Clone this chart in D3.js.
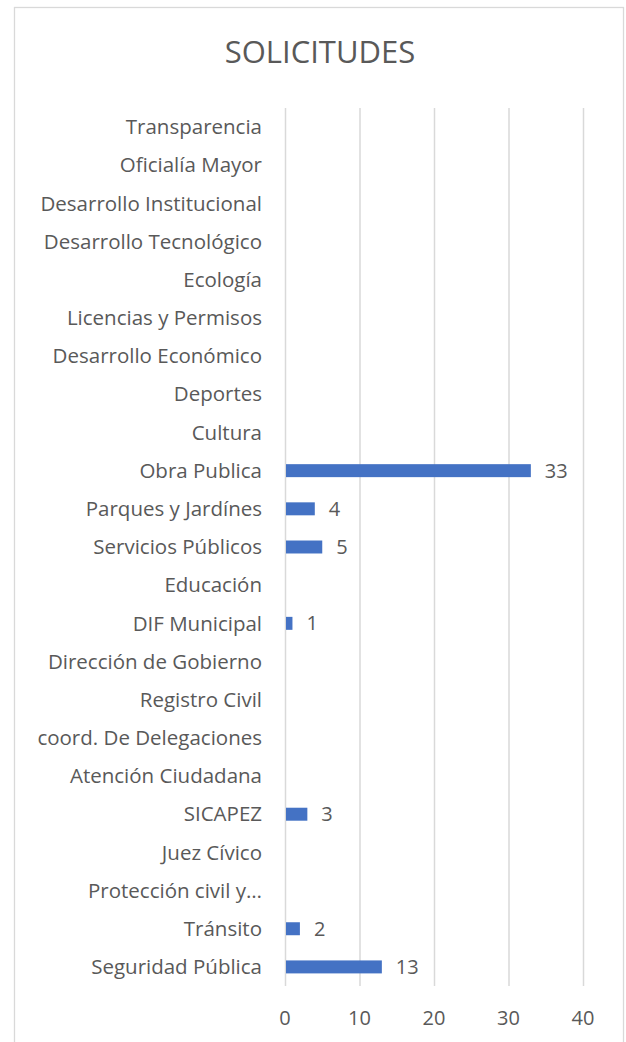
<!DOCTYPE html>
<html>
<head>
<meta charset="utf-8">
<script src="https://cdn.jsdelivr.net/npm/d3@7"></script>
<style>
  body { margin: 0; background: #fff; }
  text { font-family: "Open Sans", Lato, sans-serif; fill: #595959; }
</style>
</head>
<body>
<div id="wrapper"></div>
<script>
const categories = ["Transparencia", "Oficialía Mayor", "Desarrollo Institucional", "Desarrollo Tecnológico",
  "Ecología", "Licencias y Permisos", "Desarrollo Económico", "Deportes", "Cultura", "Obra Publica",
  "Parques y Jardínes", "Servicios Públicos", "Educación", "DIF Municipal", "Dirección de Gobierno",
  "Registro Civil", "coord. De Delegaciones", "Atención Ciudadana", "SICAPEZ", "Juez Cívico",
  "Protección civil y…", "Tránsito", "Seguridad Pública"]
const values = [null, null, null, null, null, null, null, null, null, 33,
  4, 5, null, 1, null, null, null, null, 3, null, null, 2, 13]
const xTicks = [0, 10, 20, 30, 40]

const width = 626, height = 1042
const svg = d3.select("#wrapper").append("svg")
    .attr("width", width).attr("height", height)

// chart frame
svg.append("rect")
    .attr("x", 14.5).attr("y", 7.5)
    .attr("width", 609).attr("height", 1060)
    .attr("fill", "#fff").attr("stroke", "#d9d9d9").attr("stroke-width", 1.3)

svg.append("text")
    .attr("x", 320).attr("y", 63)
    .attr("text-anchor", "middle")
    .style("font-size", "31px")
    .text("SOLICITUDES")

const xScale = d3.scaleLinear().domain([0, 40]).range([285, 583])
const yScale = d3.scaleBand().domain(categories).range([108, 986]).paddingInner(0.66).paddingOuter(0.33)

// gridlines
svg.append("g").selectAll("line").data(xTicks).join("line")
    .attr("x1", d => xScale(d) + 0.5).attr("x2", d => xScale(d) + 0.5)
    .attr("y1", 108).attr("y2", 986)
    .attr("stroke", "#d9d9d9").attr("stroke-width", 1.5)

const data = categories.map((c, i) => ({ c, v: values[i] })).filter(d => d.v != null)

svg.append("g").selectAll("rect").data(data).join("rect")
    .attr("x", xScale(0) + 1)
    .attr("y", d => yScale(d.c))
    .attr("width", d => xScale(d.v) - xScale(0) - 1)
    .attr("height", yScale.bandwidth())
    .attr("fill", "#4472c4")

svg.append("g").selectAll("text").data(data).join("text")
    .attr("x", d => xScale(d.v) + 14)
    .attr("y", d => yScale(d.c) + yScale.bandwidth() / 2)
    .attr("dy", "0.35em")
    .style("font-size", "20px")
    .text(d => d.v)

// category labels
svg.append("g").selectAll("text").data(categories).join("text")
    .attr("x", 262)
    .attr("y", d => yScale(d) + yScale.bandwidth() / 2)
    .attr("dy", "0.35em")
    .attr("text-anchor", "end")
    .style("font-size", "20.5px")
    .text(d => d)

// x tick labels
svg.append("g").selectAll("text").data(xTicks).join("text")
    .attr("x", d => xScale(d))
    .attr("y", 1018)
    .attr("dy", "0.35em")
    .attr("text-anchor", "middle")
    .style("font-size", "20px")
    .text(d => d)
</script>
</body>
</html>
